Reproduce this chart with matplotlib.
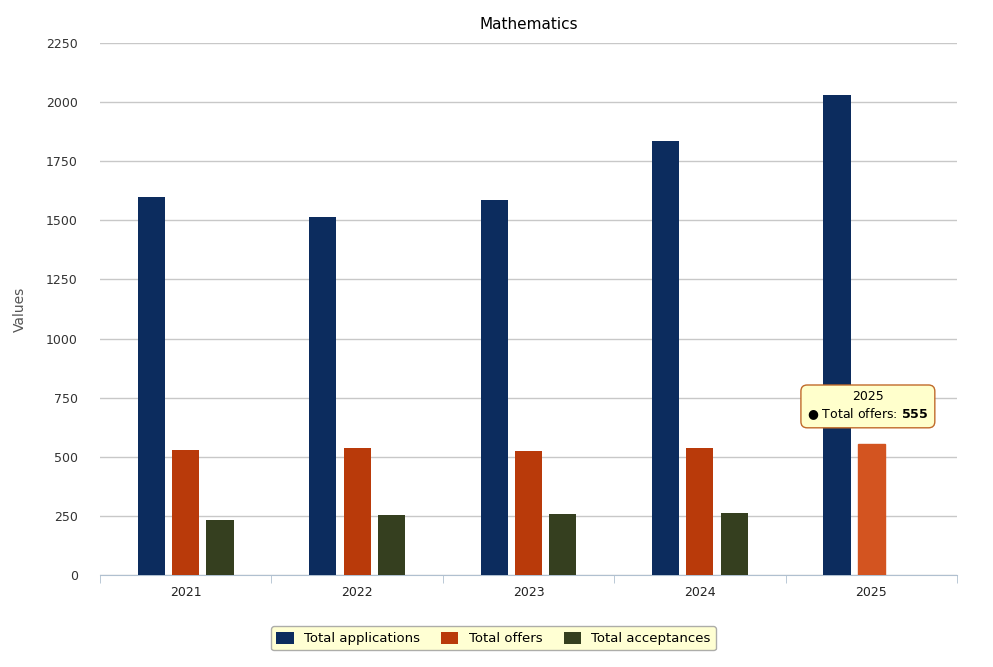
import matplotlib
matplotlib.use("Agg")
import matplotlib.pyplot as plt
import numpy as np

years = ["2021", "2022", "2023", "2024", "2025"]
applications = [1599, 1514, 1586, 1836, 2030]
offers = [529, 537, 524, 537, 555]
acceptances = [233, 254, 258, 262, None]

c_app = "#0c2c5e"
c_off = "#b93a0a"
c_acc = "#353f1f"

fig = plt.figure(figsize=(9.93, 6.67), dpi=100)
ax = fig.add_axes([100/993, 92/667, 857/993, 532/667])

x = np.arange(len(years))
w = 0.158
off = 0.2
ax.bar(x - off, applications, w, color=c_app, label="Total applications", zorder=3)
bars = ax.bar(x, offers, w, color=c_off, label="Total offers", zorder=3)
bars[-1].set_color("#d35420")
acc_x = [xi + off for xi, v in zip(x, acceptances) if v is not None]
acc_v = [v for v in acceptances if v is not None]
ax.bar(acc_x, acc_v, w, color=c_acc, label="Total acceptances", zorder=3)

ax.set_xlim(-0.5, len(years) - 0.5)
ax.set_ylim(0, 2250)
ax.set_yticks(range(0, 2251, 250))
ax.tick_params(axis="y", length=0, labelsize=9, colors="#333333", pad=16)
ax.set_xticks(x)
ax.set_xticklabels(years, fontsize=9, color="#222222")
ax.tick_params(axis="x", length=0, pad=8)
ax.set_xticks(np.arange(-0.5, len(years)), minor=True)
ax.tick_params(axis="x", which="minor", length=6, color="#b0c0d0")
ax.grid(axis="y", color="#c8c8c8", linewidth=1, zorder=0)
for s in ["top", "right", "left"]:
    ax.spines[s].set_visible(False)
ax.spines["bottom"].set_color("#b0c0d0")
ax.set_ylabel("Values", fontsize=10, color="#555555", labelpad=14)
ax.set_title("Mathematics", fontsize=11, pad=10)

# tooltip for 2025 offers
ax.annotate("2025\n\u25cf Total offers: $\\bf{555}$", xy=(4, offers[4]), xytext=(4 - 0.02, offers[4] + 160),
            fontsize=9, ha="center", va="center", zorder=5,
            bbox=dict(boxstyle="round,pad=0.5", fc="#ffffcc", ec="#c06a2a", lw=1))

leg = fig.legend(loc="lower center", bbox_to_anchor=(0.497, 0.015), ncol=3, fontsize=9.5,
                 frameon=True, fancybox=True, handlelength=1.3, handleheight=1.0, columnspacing=1.6)
leg.get_frame().set_facecolor("#ffffc8")
leg.get_frame().set_edgecolor("#999999")

fig.savefig("out.png", dpi=100)
